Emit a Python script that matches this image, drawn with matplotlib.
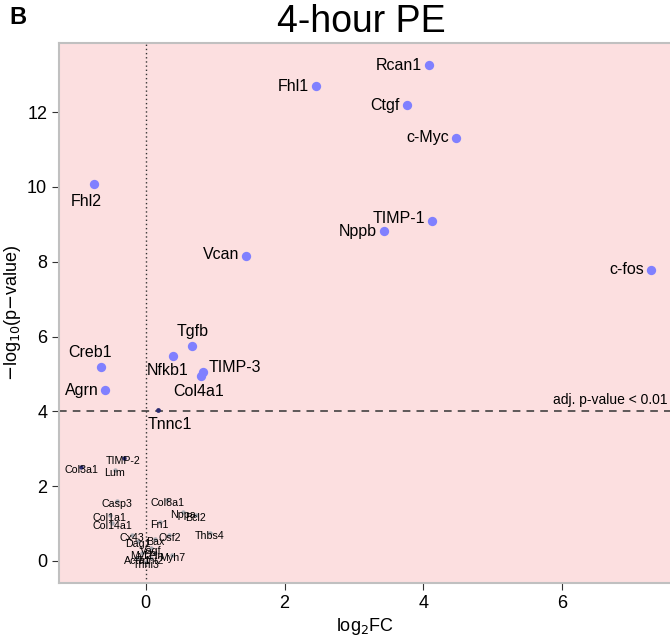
import numpy as np
import matplotlib.pyplot as plt

plt.rcParams['font.family'] = ['Liberation Sans', 'DejaVu Sans']

# significant genes (above adj. p-value line)
sig_genes = ['Rcan1', 'Fhl1', 'Ctgf', 'c-Myc', 'Fhl2', 'TIMP-1', 'Nppb', 'Vcan',
             'c-fos', 'Tgfb', 'Nfkb1', 'Creb1', 'TIMP-3', 'Col4a1', 'Agrn']
sig_fc = [4.08, 2.45, 3.76, 4.47, -0.74, 4.13, 3.43, 1.45,
          7.28, 0.67, 0.40, -0.64, 0.83, 0.80, -0.58]
sig_p = [13.26, 12.70, 12.19, 11.31, 10.08, 9.09, 8.82, 8.16,
         7.78, 5.75, 5.48, 5.19, 5.05, 4.95, 4.57]
# label offsets in points (dx, dy, ha, va)
sig_off = [(-5, 0, 'right', 'center'), (-5, 0, 'right', 'center'), (-5, 0, 'right', 'center'),
           (-5, 0, 'right', 'center'), (-6, -7, 'center', 'top'), (-5, 2, 'right', 'center'),
           (-5, 0, 'right', 'center'), (-5, 1, 'right', 'center'), (-5, 0, 'right', 'center'),
           (0, 5, 'center', 'bottom'), (-4, -5, 'center', 'top'), (-8, 5, 'center', 'bottom'),
           (4, 3, 'left', 'center'), (-2, -6, 'center', 'top'), (-5, 0, 'right', 'center')]

# borderline gene
tn_fc, tn_p = 0.18, 4.04

# non-significant genes (labels drawn on the points)
ns_genes = ['Col3a1', 'TIMP-2', 'Lum', 'Casp3', 'Col1a1', 'Col14a1', 'Col8a1', 'Nppa',
            'Bcl2', 'Fn1', 'Thbs4', 'Osf2', 'Cx43', 'Dag1', 'Bax', 'Vegf', 'Myl2',
            'Myh7', 'Acta1', 'Tnni3', 'Tnnt2', 'Pln']
ns_fc = [-0.93, -0.32, -0.45, -0.41, -0.52, -0.48, 0.31, 0.54,
         0.72, 0.20, 0.92, 0.34, -0.20, -0.11, 0.14, 0.07, -0.06,
         0.38, -0.12, 0.0, 0.07, 0.14]
ns_p = [2.50, 2.74, 2.43, 1.60, 1.22, 1.02, 1.64, 1.30,
        1.24, 1.05, 0.76, 0.70, 0.70, 0.53, 0.59, 0.35, 0.21,
        0.16, 0.08, -0.03, 0.08, 0.21]
ns_dark = ['Col3a1', 'TIMP-2']

threshold = 4.02

fig = plt.figure(figsize=(6.7, 6.44), dpi=100)
ax = fig.add_axes([59 / 670, 1 - 583 / 644, 612 / 670, 540 / 644])
ax.set_facecolor('#fcdfe0')

ax.axhline(threshold, color='#333333', ls=(0, (5, 4)), lw=1.1, zorder=1)
ax.axvline(0, color='#333333', ls=(0, (1, 2)), lw=1.0, zorder=1)
ax.text(7.52, threshold + 0.1, 'adj. p-value < 0.01', ha='right', va='bottom', fontsize=10)

for g, x, y in zip(ns_genes, ns_fc, ns_p):
    c = '#2a2a70' if g in ns_dark else '#a8a8b0'
    ax.scatter(x, y, s=10, color=c, zorder=2, linewidths=0)
    ax.text(x, y - 0.08, g, fontsize=7.7, ha='center', va='center', zorder=3)

ax.scatter(tn_fc, tn_p, s=12, color='#2a2a70', zorder=2, linewidths=0)
ax.annotate('Tnnc1', (tn_fc, tn_p), xytext=(8, -5), textcoords='offset points',
            ha='center', va='top', fontsize=11.5)

ax.scatter(sig_fc, sig_p, s=45, color='#8080ff', zorder=3, linewidths=0)
for g, x, y, (dx, dy, ha, va) in zip(sig_genes, sig_fc, sig_p, sig_off):
    ax.annotate(g, (x, y), xytext=(dx, dy), textcoords='offset points',
                ha=ha, va=va, fontsize=11.5)

ax.set_xlim(-1.25, 7.57)
ax.set_ylim(-0.59, 13.85)
ax.set_xticks([0, 2, 4, 6])
ax.set_yticks([0, 2, 4, 6, 8, 10, 12])
ax.tick_params(labelsize=13, length=5, color='#333333')
for side in ['top', 'left', 'bottom']:
    ax.spines[side].set_color('#c0c0c0')
    ax.spines[side].set_linewidth(1.5)
ax.spines['right'].set_visible(False)

ax.set_xlabel(r'log$_2$FC', fontsize=13, labelpad=3)
ax.set_ylabel(r'$-$log$_{10}$(p$-$value)', fontsize=13, labelpad=3)
fig.text(361 / 670, 1 - 22 / 644, '4-hour PE', ha='center', va='center', fontsize=27)
fig.text(9 / 670, 1 - 18 / 644, 'B', ha='left', va='center', fontsize=17, fontweight='bold')

fig.savefig('out.png', dpi=100)
